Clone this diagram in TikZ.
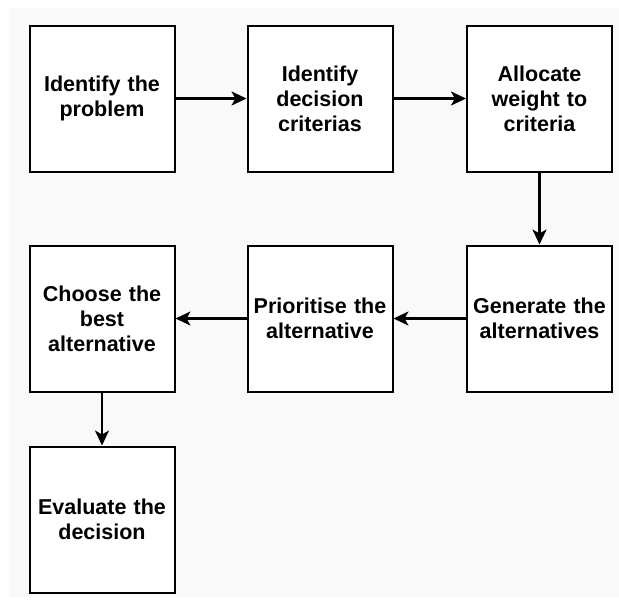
\documentclass[tikz,border=0pt]{standalone}
\usepackage{fontspec}
\setmainfont{Liberation Sans}
\usetikzlibrary{arrows.meta}
\definecolor{bggray}{HTML}{F9F9F9}
\tikzset{
  stepbox/.style={draw=black, line width=2pt, fill=white, minimum width=145pt, minimum height=146pt,
    inner sep=0pt, align=center, text width=140pt, font=\bfseries\fontsize{21.5}{25}\selectfont},
  conn/.style={line width=2.4pt, -{Stealth[length=15pt,width=14pt,inset=4pt]}}
}
\begin{document}
\begin{tikzpicture}[x=1pt,y=-1pt]
\useasboundingbox (0,0) rectangle (619,603);
\fill[white] (0,0) rectangle (619,603);
\fill[bggray] (9,8) rectangle (619,597);
\node[stepbox] (a) at (102,98.5) {Identify the\\problem};
\node[stepbox] (b) at (320,98.5) {Identify\\decision\\criterias};
\node[stepbox] (c) at (539.5,98.5) {Allocate\\weight to\\criteria};
\node[stepbox] (d) at (539.5,318.5) {Generate the\\alternatives};
\node[stepbox] (e) at (320,318.5) {Prioritise the\\alternative};
\node[stepbox] (f) at (102,318.5) {Choose the\\best\\alternative};
\node[stepbox] (g) at (102,519.5) {Evaluate the\\decision};
\draw[conn] (a) -- (b);
\draw[conn] (b) -- (c);
\draw[conn] (c) -- (d);
\draw[conn] (d) -- (e);
\draw[conn] (e) -- (f);
\draw[conn] (f) -- (g);
\end{tikzpicture}
\end{document}
